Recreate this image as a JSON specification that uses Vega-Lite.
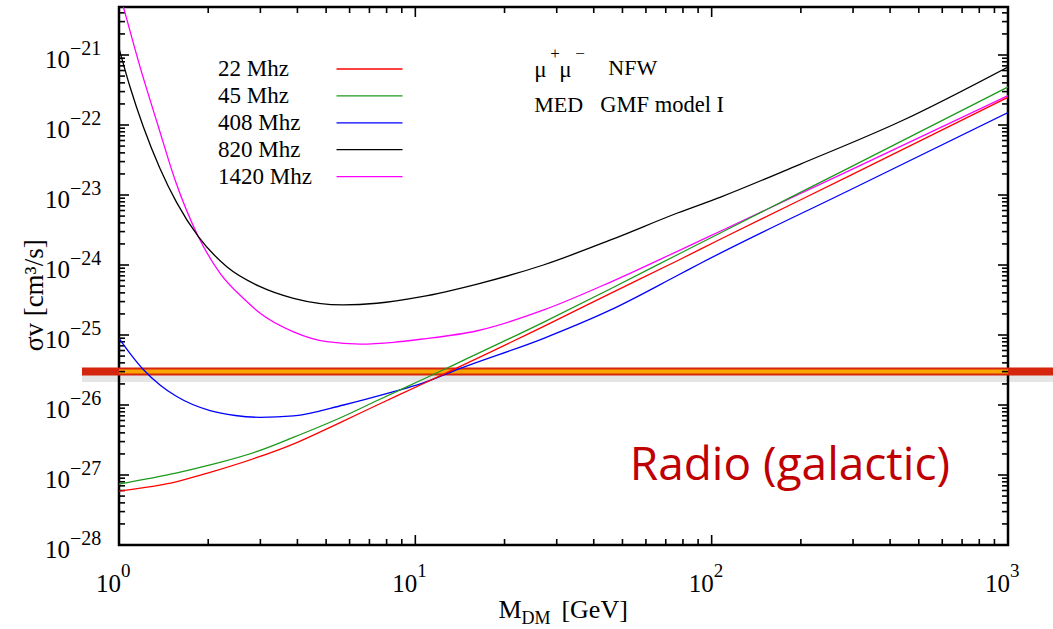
{
  "$schema": "https://vega.github.io/schema/vega-lite/v6.json",
  "width": 889,
  "height": 538,
  "autosize": "none",
  "padding": {"left": 119, "top": 7, "right": 45, "bottom": 84},
  "background": "white",
  "config": {
    "view": {"stroke": "black", "strokeWidth": 2.5},
    "text": {"font": "Liberation Serif", "color": "black"},
    "tick": {"color": "black", "opacity": 1, "thickness": 1.6}
  },
  "datasets": {
    "curves": [
      {"m": 1, "sv": 8.1e-21, "f": "1420 Mhz"},
      {"m": 1.034, "sv": 4.9e-21, "f": "1420 Mhz"},
      {"m": 1.177, "sv": 6.81e-22, "f": "1420 Mhz"},
      {"m": 1.358, "sv": 9.46e-23, "f": "1420 Mhz"},
      {"m": 1.546, "sv": 1.64e-23, "f": "1420 Mhz"},
      {"m": 1.853, "sv": 2.54e-24, "f": "1420 Mhz"},
      {"m": 2.194, "sv": 7.6e-25, "f": "1420 Mhz"},
      {"m": 2.666, "sv": 3.16e-25, "f": "1420 Mhz"},
      {"m": 2.995, "sv": 2.04e-25, "f": "1420 Mhz"},
      {"m": 3.88, "sv": 1.11e-25, "f": "1420 Mhz"},
      {"m": 5.031, "sv": 8.02e-26, "f": "1420 Mhz"},
      {"m": 6.521, "sv": 7.43e-26, "f": "1420 Mhz"},
      {"m": 8.45, "sv": 7.87e-26, "f": "1420 Mhz"},
      {"m": 10.4, "sv": 8.69e-26, "f": "1420 Mhz"},
      {"m": 16.18, "sv": 1.15e-25, "f": "1420 Mhz"},
      {"m": 27.13, "sv": 2.28e-25, "f": "1420 Mhz"},
      {"m": 45.6, "sv": 5.71e-25, "f": "1420 Mhz"},
      {"m": 76.6, "sv": 1.57e-24, "f": "1420 Mhz"},
      {"m": 107.3, "sv": 3.06e-24, "f": "1420 Mhz"},
      {"m": 294.9, "sv": 2.28e-23, "f": "1420 Mhz"},
      {"m": 1000, "sv": 2.63e-22, "f": "1420 Mhz"},

      {"m": 1, "sv": 1.25e-21, "f": "820 Mhz"},
      {"m": 1.089, "sv": 3.52e-22, "f": "820 Mhz"},
      {"m": 1.208, "sv": 9.46e-23, "f": "820 Mhz"},
      {"m": 1.375, "sv": 2.4e-23, "f": "820 Mhz"},
      {"m": 1.566, "sv": 7.78e-24, "f": "820 Mhz"},
      {"m": 1.853, "sv": 2.54e-24, "f": "820 Mhz"},
      {"m": 2.311, "sv": 9.46e-25, "f": "820 Mhz"},
      {"m": 2.995, "sv": 4.9e-25, "f": "820 Mhz"},
      {"m": 3.88, "sv": 3.34e-25, "f": "820 Mhz"},
      {"m": 5.712, "sv": 2.69e-25, "f": "820 Mhz"},
      {"m": 7.423, "sv": 2.84e-25, "f": "820 Mhz"},
      {"m": 10.4, "sv": 3.5e-25, "f": "820 Mhz"},
      {"m": 16.18, "sv": 5.35e-25, "f": "820 Mhz"},
      {"m": 27.04, "sv": 1.0e-24, "f": "820 Mhz"},
      {"m": 45.6, "sv": 2.28e-24, "f": "820 Mhz"},
      {"m": 76.7, "sv": 5.53e-24, "f": "820 Mhz"},
      {"m": 107.2, "sv": 9.35e-24, "f": "820 Mhz"},
      {"m": 199.5, "sv": 2.77e-23, "f": "820 Mhz"},
      {"m": 436.5, "sv": 1.14e-22, "f": "820 Mhz"},
      {"m": 1000, "sv": 6.75e-22, "f": "820 Mhz"},

      {"m": 1, "sv": 8.97e-26, "f": "408 Mhz"},
      {"m": 1.089, "sv": 5.48e-26, "f": "408 Mhz"},
      {"m": 1.208, "sv": 3.21e-26, "f": "408 Mhz"},
      {"m": 1.375, "sv": 1.93e-26, "f": "408 Mhz"},
      {"m": 1.566, "sv": 1.32e-26, "f": "408 Mhz"},
      {"m": 2.029, "sv": 8.3e-27, "f": "408 Mhz"},
      {"m": 2.466, "sv": 7.08e-27, "f": "408 Mhz"},
      {"m": 2.995, "sv": 6.67e-27, "f": "408 Mhz"},
      {"m": 3.88, "sv": 6.97e-27, "f": "408 Mhz"},
      {"m": 5.725, "sv": 1.0e-26, "f": "408 Mhz"},
      {"m": 8.45, "sv": 1.55e-26, "f": "408 Mhz"},
      {"m": 10.4, "sv": 2.0e-26, "f": "408 Mhz"},
      {"m": 14.19, "sv": 3.34e-26, "f": "408 Mhz"},
      {"m": 27.13, "sv": 8.97e-26, "f": "408 Mhz"},
      {"m": 45.6, "sv": 2.28e-25, "f": "408 Mhz"},
      {"m": 76.6, "sv": 7.08e-25, "f": "408 Mhz"},
      {"m": 91.8, "sv": 1.06e-24, "f": "408 Mhz"},
      {"m": 295, "sv": 1.2e-23, "f": "408 Mhz"},
      {"m": 1000, "sv": 1.51e-22, "f": "408 Mhz"},

      {"m": 1, "sv": 7.43e-28, "f": "45 Mhz"},
      {"m": 1.57, "sv": 1.07e-27, "f": "45 Mhz"},
      {"m": 2.029, "sv": 1.39e-27, "f": "45 Mhz"},
      {"m": 2.925, "sv": 2.17e-27, "f": "45 Mhz"},
      {"m": 3.871, "sv": 3.44e-27, "f": "45 Mhz"},
      {"m": 5.712, "sv": 6.85e-27, "f": "45 Mhz"},
      {"m": 7.441, "sv": 1.16e-26, "f": "45 Mhz"},
      {"m": 10.4, "sv": 2.24e-26, "f": "45 Mhz"},
      {"m": 13.13, "sv": 3.55e-26, "f": "45 Mhz"},
      {"m": 27.13, "sv": 1.53e-25, "f": "45 Mhz"},
      {"m": 45.6, "sv": 4.58e-25, "f": "45 Mhz"},
      {"m": 76.6, "sv": 1.4e-24, "f": "45 Mhz"},
      {"m": 107.3, "sv": 2.89e-24, "f": "45 Mhz"},
      {"m": 295, "sv": 2.52e-23, "f": "45 Mhz"},
      {"m": 1000, "sv": 3.49e-22, "f": "45 Mhz"},

      {"m": 1, "sv": 5.9e-28, "f": "22 Mhz"},
      {"m": 1.57, "sv": 8.07e-28, "f": "22 Mhz"},
      {"m": 2.029, "sv": 1.09e-27, "f": "22 Mhz"},
      {"m": 2.925, "sv": 1.78e-27, "f": "22 Mhz"},
      {"m": 3.871, "sv": 2.77e-27, "f": "22 Mhz"},
      {"m": 5.712, "sv": 5.9e-27, "f": "22 Mhz"},
      {"m": 7.441, "sv": 1.0e-26, "f": "22 Mhz"},
      {"m": 10.4, "sv": 1.93e-26, "f": "22 Mhz"},
      {"m": 27.13, "sv": 1.33e-25, "f": "22 Mhz"},
      {"m": 45.6, "sv": 3.94e-25, "f": "22 Mhz"},
      {"m": 76.6, "sv": 1.15e-24, "f": "22 Mhz"},
      {"m": 107.3, "sv": 2.35e-24, "f": "22 Mhz"},
      {"m": 295, "sv": 1.92e-23, "f": "22 Mhz"},
      {"m": 1000, "sv": 2.49e-22, "f": "22 Mhz"}
    ],
    "relic": [{"sv": 3e-26}],
    "yticks": [
      {"v": 1e-21, "e": "−21"}, {"v": 1e-22, "e": "−22"}, {"v": 1e-23, "e": "−23"}, {"v": 1e-24, "e": "−24"},
      {"v": 1e-25, "e": "−25"}, {"v": 1e-26, "e": "−26"}, {"v": 1e-27, "e": "−27"}, {"v": 1e-28, "e": "−28"}
    ],
    "xticks": [
      {"v": 1, "e": "0"}, {"v": 10, "e": "1"}, {"v": 100, "e": "2"}, {"v": 1000, "e": "3"}
    ],
    "xminor": [
      {"v": 2}, {"v": 3}, {"v": 4}, {"v": 5}, {"v": 6}, {"v": 7}, {"v": 8}, {"v": 9},
      {"v": 20}, {"v": 30}, {"v": 40}, {"v": 50}, {"v": 60}, {"v": 70}, {"v": 80}, {"v": 90},
      {"v": 200}, {"v": 300}, {"v": 400}, {"v": 500}, {"v": 600}, {"v": 700}, {"v": 800}, {"v": 900}
    ],
    "yminor": [
      {"v": 2e-28}, {"v": 3e-28}, {"v": 4e-28}, {"v": 5e-28}, {"v": 6e-28}, {"v": 7e-28}, {"v": 8e-28}, {"v": 9e-28},
      {"v": 2e-27}, {"v": 3e-27}, {"v": 4e-27}, {"v": 5e-27}, {"v": 6e-27}, {"v": 7e-27}, {"v": 8e-27}, {"v": 9e-27},
      {"v": 2e-26}, {"v": 3e-26}, {"v": 4e-26}, {"v": 5e-26}, {"v": 6e-26}, {"v": 7e-26}, {"v": 8e-26}, {"v": 9e-26},
      {"v": 2e-25}, {"v": 3e-25}, {"v": 4e-25}, {"v": 5e-25}, {"v": 6e-25}, {"v": 7e-25}, {"v": 8e-25}, {"v": 9e-25},
      {"v": 2e-24}, {"v": 3e-24}, {"v": 4e-24}, {"v": 5e-24}, {"v": 6e-24}, {"v": 7e-24}, {"v": 8e-24}, {"v": 9e-24},
      {"v": 2e-23}, {"v": 3e-23}, {"v": 4e-23}, {"v": 5e-23}, {"v": 6e-23}, {"v": 7e-23}, {"v": 8e-23}, {"v": 9e-23},
      {"v": 2e-22}, {"v": 3e-22}, {"v": 4e-22}, {"v": 5e-22}, {"v": 6e-22}, {"v": 7e-22}, {"v": 8e-22}, {"v": 9e-22},
      {"v": 2e-21}, {"v": 3e-21}, {"v": 4e-21}
    ]
  },
  "encoding": {
    "x": {"type": "quantitative", "scale": {"type": "log", "domain": [1, 1000], "nice": false}, "axis": null},
    "y": {"type": "quantitative", "scale": {"type": "log", "domain": [1e-28, 4.85e-21], "nice": false}, "axis": null}
  },
  "layer": [
    {
      "data": {"name": "relic"},
      "mark": {"type": "rule", "color": "#000000", "opacity": 0.1, "strokeWidth": 9, "yOffset": 6},
      "encoding": {"x": {"datum": 0.75}, "x2": {"datum": 1500}, "y": {"field": "sv"}}
    },
    {
      "data": {"name": "relic"},
      "mark": {"type": "rule", "color": "#d6250d", "strokeWidth": 8},
      "encoding": {"x": {"datum": 0.75}, "x2": {"datum": 1500}, "y": {"field": "sv"}}
    },
    {
      "data": {"name": "relic"},
      "mark": {"type": "rule", "color": "#faa500", "strokeWidth": 4},
      "encoding": {"x": {"datum": 1}, "x2": {"datum": 1000}, "y": {"field": "sv"}}
    },
    {
      "data": {"name": "xticks"},
      "mark": {"type": "tick", "orient": "vertical", "size": 10, "yOffset": -5},
      "encoding": {"x": {"field": "v"}, "y": {"datum": 1e-28}}
    },
    {
      "data": {"name": "xticks"},
      "mark": {"type": "tick", "orient": "vertical", "size": 10, "yOffset": 5},
      "encoding": {"x": {"field": "v"}, "y": {"datum": 4.85e-21}}
    },
    {
      "data": {"name": "xminor"},
      "mark": {"type": "tick", "orient": "vertical", "size": 6, "yOffset": -3},
      "encoding": {"x": {"field": "v"}, "y": {"datum": 1e-28}}
    },
    {
      "data": {"name": "xminor"},
      "mark": {"type": "tick", "orient": "vertical", "size": 6, "yOffset": 3},
      "encoding": {"x": {"field": "v"}, "y": {"datum": 4.85e-21}}
    },
    {
      "data": {"name": "yticks"},
      "mark": {"type": "tick", "orient": "horizontal", "size": 10, "xOffset": 5},
      "encoding": {"y": {"field": "v"}, "x": {"datum": 1}}
    },
    {
      "data": {"name": "yticks"},
      "mark": {"type": "tick", "orient": "horizontal", "size": 10, "xOffset": -5},
      "encoding": {"y": {"field": "v"}, "x": {"datum": 1000}}
    },
    {
      "data": {"name": "yminor"},
      "mark": {"type": "tick", "orient": "horizontal", "size": 6, "xOffset": 3},
      "encoding": {"y": {"field": "v"}, "x": {"datum": 1}}
    },
    {
      "data": {"name": "yminor"},
      "mark": {"type": "tick", "orient": "horizontal", "size": 6, "xOffset": -3},
      "encoding": {"y": {"field": "v"}, "x": {"datum": 1000}}
    },
    {
      "data": {"name": "curves"},
      "mark": {"type": "line", "clip": true, "strokeWidth": 1.3, "interpolate": "monotone"},
      "encoding": {
        "x": {"field": "m"},
        "y": {"field": "sv"},
        "color": {"field": "f", "type": "nominal",
                  "scale": {"domain": ["22 Mhz", "45 Mhz", "408 Mhz", "820 Mhz", "1420 Mhz"],
                            "range": ["#ff0000", "#1c9a1c", "#0000ff", "#000000", "#ff00ff"]},
                  "legend": {"orient": "none", "legendX": 239, "legendY": 50.5, "title": null, "padding": 0,
                             "symbolType": "M-6,0H6", "symbolSize": 121, "symbolStrokeWidth": 1.3,
                             "labelFont": "Liberation Serif", "labelFontSize": 23, "labelColor": "black",
                             "labelOffset": -163, "labelAlign": "left", "labelBaseline": "middle", "rowPadding": 2.9}}
      }
    },
    {
      "data": {"name": "yticks"},
      "mark": {"type": "text", "align": "right", "baseline": "alphabetic", "dx": -49, "dy": 13, "fontSize": 25},
      "encoding": {"x": {"datum": 1}, "y": {"field": "v"}, "text": {"value": "10"}}
    },
    {
      "data": {"name": "yticks"},
      "mark": {"type": "text", "align": "left", "baseline": "alphabetic", "dx": -49, "dy": 0, "fontSize": 20},
      "encoding": {"x": {"datum": 1}, "y": {"field": "v"}, "text": {"field": "e"}}
    },
    {
      "data": {"name": "xticks"},
      "mark": {"type": "text", "align": "right", "baseline": "alphabetic", "dx": 2, "dy": 47, "fontSize": 25},
      "encoding": {"x": {"field": "v"}, "y": {"datum": 1e-28}, "text": {"value": "10"}}
    },
    {
      "data": {"name": "xticks"},
      "mark": {"type": "text", "align": "left", "baseline": "alphabetic", "dx": 2, "dy": 32, "fontSize": 19},
      "encoding": {"x": {"field": "v"}, "y": {"datum": 1e-28}, "text": {"field": "e"}}
    },
    {
      "data": {"values": [{"t": "M", "s": "DM", "u": "[GeV]"}]},
      "encoding": {"x": {"datum": 19.37}, "y": {"datum": 1e-28}},
      "layer": [
        {"mark": {"type": "text", "align": "left", "baseline": "alphabetic", "dx": -2, "dy": 73, "fontSize": 26}, "encoding": {"text": {"field": "t"}}},
        {"mark": {"type": "text", "align": "left", "baseline": "alphabetic", "dx": 21, "dy": 79, "fontSize": 18}, "encoding": {"text": {"field": "s"}}},
        {"mark": {"type": "text", "align": "left", "baseline": "alphabetic", "dx": 61, "dy": 73, "fontSize": 26}, "encoding": {"text": {"field": "u"}}}
      ]
    },
    {
      "data": {"values": [{"t": "σv  [cm³/s]"}]},
      "mark": {"type": "text", "angle": 270, "align": "center", "baseline": "middle", "fontSize": 27},
      "encoding": {"x": {"datum": 0.52}, "y": {"datum": 3.7e-25}, "text": {"field": "t"}}
    },
    {
      "data": {"values": [{"a": "μ", "b": "+", "c": "μ", "d": "−", "e": "NFW", "f": "MED", "g": "GMF model I"}]},
      "encoding": {"x": {"datum": 25.2}, "y": {"datum": 5.18e-22}},
      "layer": [
        {"mark": {"type": "text", "align": "left", "baseline": "alphabetic", "fontSize": 23, "dx": 0, "dy": 2}, "encoding": {"text": {"field": "a"}}},
        {"mark": {"type": "text", "align": "left", "baseline": "alphabetic", "fontSize": 17, "dx": 16, "dy": -16}, "encoding": {"text": {"field": "b"}}},
        {"mark": {"type": "text", "align": "left", "baseline": "alphabetic", "fontSize": 23, "dx": 25, "dy": 2}, "encoding": {"text": {"field": "c"}}},
        {"mark": {"type": "text", "align": "left", "baseline": "alphabetic", "fontSize": 17, "dx": 41, "dy": -16}, "encoding": {"text": {"field": "d"}}},
        {"mark": {"type": "text", "align": "left", "baseline": "alphabetic", "fontSize": 22, "dx": 74, "dy": 0}, "encoding": {"text": {"field": "e"}}},
        {"mark": {"type": "text", "align": "left", "baseline": "alphabetic", "fontSize": 22, "dx": 0, "dy": 37}, "encoding": {"text": {"field": "f"}}},
        {"mark": {"type": "text", "align": "left", "baseline": "alphabetic", "fontSize": 22.5, "dx": 66, "dy": 37}, "encoding": {"text": {"field": "g"}}}
      ]
    },
    {
      "data": {"values": [{"t": "Radio (galactic)"}]},
      "mark": {"type": "text", "align": "center", "baseline": "alphabetic", "font": "Open Sans", "fontSize": 46, "color": "#c00000"},
      "encoding": {"x": {"datum": 183.6}, "y": {"datum": 8.5e-28}, "text": {"field": "t"}}
    }
  ]
}
